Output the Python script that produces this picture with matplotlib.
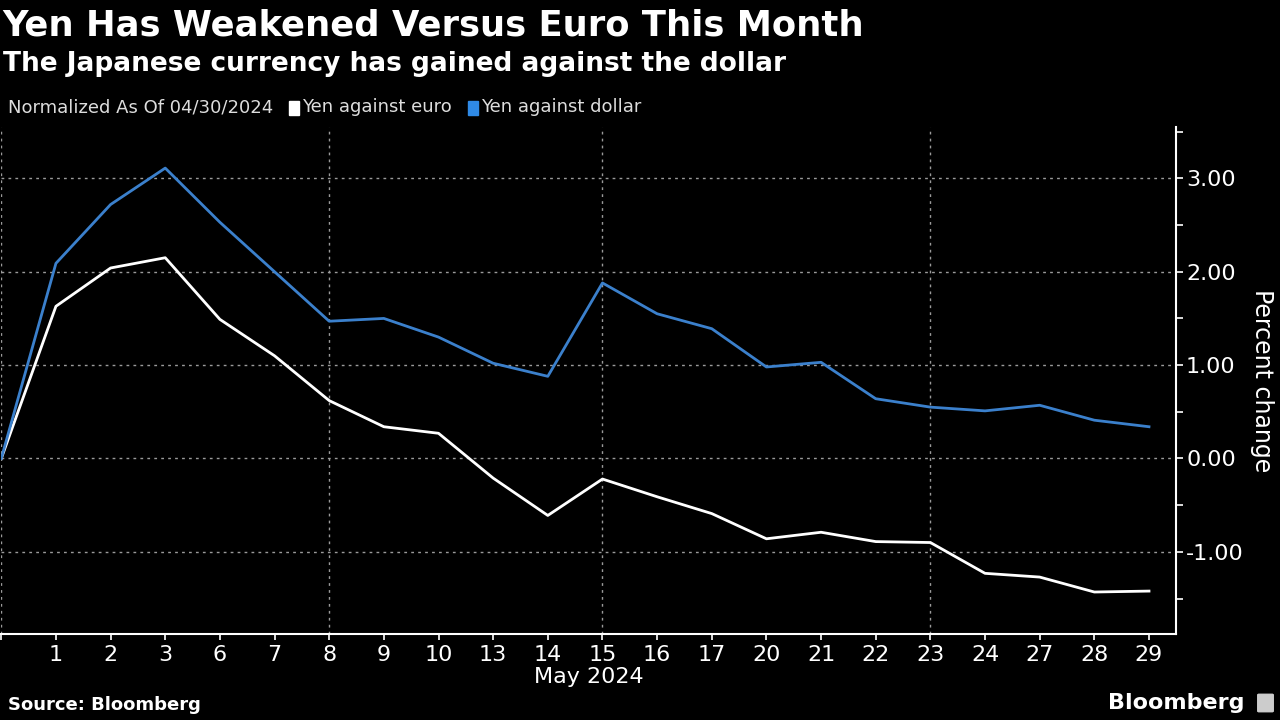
import matplotlib
matplotlib.use("Agg")
import matplotlib.pyplot as plt
from matplotlib.patches import Rectangle, FancyBboxPatch
from matplotlib.transforms import blended_transform_factory

# ── Data ──────────────────────────────────────────────────────────────────────
days = ["", "1", "2", "3", "6", "7", "8", "9", "10", "13", "14",
        "15", "16", "17", "20", "21", "22", "23", "24", "27", "28", "29"]
yen_vs_dollar = [0.00, 2.09, 2.72, 3.11, 2.53, 2.00, 1.47, 1.50, 1.30, 1.02, 0.88,
                 1.88, 1.55, 1.39, 0.98, 1.03, 0.64, 0.55, 0.51, 0.57, 0.41, 0.34]
yen_vs_euro = [0.00, 1.63, 2.04, 2.15, 1.49, 1.10, 0.62, 0.34, 0.27, -0.21, -0.61,
               -0.22, -0.41, -0.59, -0.86, -0.79, -0.89, -0.90, -1.23, -1.27, -1.43, -1.42]
vgrid_idx = [0, 6, 11, 17]
yticks = [-1, 0, 1, 2, 3]

# ── Style ─────────────────────────────────────────────────────────────────────
BG = "black"
FG = "white"
BLUE = "#3b80cc"
GRID = "#9a9a9a"

fig = plt.figure(figsize=(12.8, 7.2), dpi=100, facecolor=BG)
ax = fig.add_axes([0.001, 0.1194, 0.918, 0.7042], facecolor=BG)

x = list(range(len(days)))
ax.plot(x, yen_vs_euro, color=FG, lw=2.0, zorder=3)
ax.plot(x, yen_vs_dollar, color=BLUE, lw=2.0, zorder=3)

ax.set_xlim(0, 21.5)
ax.set_ylim(-1.88, 3.55)

# grid
for yv in yticks:
    ax.axhline(yv, color=GRID, lw=1.0, ls=(0, (2, 3)), zorder=1)
for xv in vgrid_idx:
    ax.axvline(xv, color=GRID, lw=1.0, ls=(0, (2, 3)), zorder=1)

# spines / ticks
for s in ["left", "top"]:
    ax.spines[s].set_visible(False)
for s in ["right", "bottom"]:
    ax.spines[s].set_color(FG)
    ax.spines[s].set_linewidth(1.5)

ax.yaxis.tick_right()
ax.set_yticks(yticks)
ax.set_yticklabels([f"{v:.2f}" for v in yticks])
ax.set_yticks([-1.5, -0.5, 0.5, 1.5, 2.5, 3.5], minor=True)
ax.tick_params(axis="y", which="both", colors=FG, direction="out", length=5, width=1.2,
               labelsize=16, pad=2)
ax.set_xticks(x)
ax.set_xticklabels(days)
ax.tick_params(axis="x", colors=FG, direction="out", length=4, width=1.2,
               labelsize=16, pad=4)

ax.yaxis.set_label_position("right")
ax.set_ylabel("Percent change", color=FG, fontsize=17, rotation=270, labelpad=22)

trans = blended_transform_factory(ax.transData, fig.transFigure)
ax.text(10.75, 0.06, "May 2024", transform=trans, ha="center", va="center",
        color=FG, fontsize=16)

# ── Titles / legend / footer ──────────────────────────────────────────────────
fig.text(0.002, 0.965, "Yen Has Weakened Versus Euro This Month", color=FG,
         fontsize=25.5, fontweight="bold", ha="left", va="center")
fig.text(0.002, 0.911, "The Japanese currency has gained against the dollar", color=FG,
         fontsize=19, fontweight="bold", ha="left", va="center")

# legend row, laid out left to right
ly = 1 - 107 / 720
renderer = fig.canvas.get_renderer()
items = [("Normalized As Of 04/30/2024", None),
         ("Yen against euro", FG),
         ("Yen against dollar", "#2f8ae6")]
xpos = 8
for label, swatch in items:
    if swatch is not None:
        fig.patches.append(Rectangle((xpos / 1280, ly - 0.011), 10 / 1280, 0.019,
                                     transform=fig.transFigure, color=swatch))
        xpos += 13
    t = fig.text(xpos / 1280, ly, label, color="#dddddd", fontsize=13,
                 ha="left", va="center")
    xpos = t.get_window_extent(renderer).x1 + 16

fig.text(8 / 1280, 1 - 705 / 720, "Source: Bloomberg", color=FG, fontsize=13,
         fontweight="bold", ha="left", va="center")
fig.text(1245 / 1280, 1 - 703 / 720, "Bloomberg", color=FG, fontsize=16,
         fontweight="bold", ha="right", va="center")
fig.patches.append(FancyBboxPatch((1259 / 1280, 1 - 711 / 720), 13 / 1280, 16 / 720,
                                  boxstyle="round,pad=0.001", transform=fig.transFigure,
                                  color="#cccccc"))

fig.savefig("out.png", dpi=100, facecolor=BG)
